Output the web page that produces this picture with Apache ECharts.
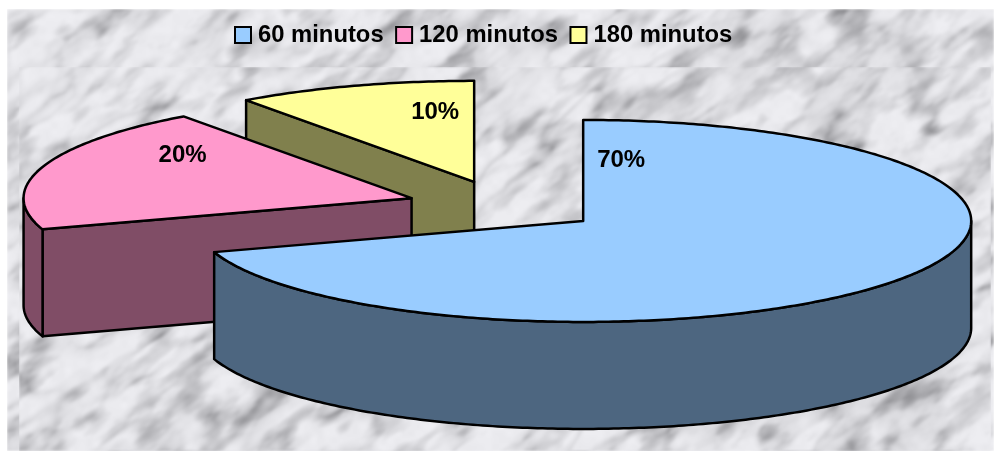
<!DOCTYPE html>
<html>
<head>
<meta charset="utf-8">
<style>html,body{margin:0;padding:0;background:#fff}#c{width:994px;height:451px}</style>
<script src="https://cdn.jsdelivr.net/npm/echarts@6/dist/echarts.min.js"></script>
</head>
<body>
<div id="c"></div>
<script>
// ---- data ----
var categories = ['60 minutos', '120 minutos', '180 minutos'];
var percents = [70, 20, 10];

// ---- styling / layout ----
var topColors = ['#99CCFF', '#FF99CC', '#FFFF99'];
var sideColors = ['#4D6680', '#804D66', '#80804D'];
var labelOffsets = [[38, -61], [-229, -43], [-39, -69]];
var pieCenter = [504.3, 206], rx = 388, ry = 101, depth = 107, explode = 97.5;
var FONT = '"Liberation Sans", Arial, sans-serif';

// ---- marble texture (deterministic, decoration only) ----
function hash(i, j) {
  var s = Math.sin(i * 127.1 + j * 311.7) * 43758.5453;
  return s - Math.floor(s);
}
function vnoise(x, y) {
  var i = Math.floor(x), j = Math.floor(y), f = x - i, g = y - j;
  f = f * f * (3 - 2 * f); g = g * g * (3 - 2 * g);
  var a = hash(i, j), b = hash(i + 1, j), c = hash(i, j + 1), d = hash(i + 1, j + 1);
  return a + (b - a) * f + (c - a) * g + (a - b - c + d) * f * g;
}
function fbm(x, y) {
  return 0.6 * vnoise(x, y) + 0.28 * vnoise(x * 2.1 + 9, y * 2.1 + 4) + 0.12 * vnoise(x * 4.3 + 3, y * 4.3 + 7);
}
function makeTile(w, h, ox, oy) {
  var cv = document.createElement('canvas');
  cv.width = w; cv.height = h;
  var ctx = cv.getContext('2d'), img = ctx.createImageData(w, h), d = img.data;
  var ca = Math.cos(-0.62), sa = Math.sin(-0.62);
  for (var y = 0; y < h; y++) for (var x = 0; x < w; x++) {
    var px = x + ox, py = y + oy;
    var u = px * ca + py * sa, v = -px * sa + py * ca;
    var warp = fbm(px / 90 + 5, py / 90 + 2);
    var n = fbm(u / 80, v / 30 + warp * 1.2);
    var m = fbm(u / 34 + 20, v / 15 + 30);
    var vein = Math.max(0, 1 - Math.abs(n - 0.5) * 7);
    var blot = Math.max(0, m - 0.47) * 2;
    var g = 235 - 32 * vein * (0.3 + m) * (0.3 + 1.4 * m) - 54 * blot + 6 * (vnoise(px / 7, py / 7) - 0.5);
    var k = (y * w + x) * 4;
    d[k] = g; d[k + 1] = g; d[k + 2] = g + 4; d[k + 3] = 255;
  }
  ctx.putImageData(img, 0, 0);
  var out = document.createElement('canvas');
  out.width = w; out.height = h;
  var o = out.getContext('2d');
  o.filter = 'blur(1.2px)';
  o.drawImage(cv, 0, 0);
  return out;
}
function makeBackground() {
  var cv = document.createElement('canvas');
  cv.width = 994; cv.height = 451;
  var ctx = cv.getContext('2d');
  ctx.fillStyle = '#fff'; ctx.fillRect(0, 0, 994, 451);
  ctx.drawImage(makeTile(987, 442, 0, 0), 7, 9);
  ctx.drawImage(makeTile(972, 384, 0, 40), 19, 67);
  return cv;
}

// ---- drawing through the data ----
var total = percents.reduce(function (a, b) { return a + b; }, 0);
function toAngle(v) { return echarts.number.linearMap(v, [0, total], [0, Math.PI * 2], true); }
function cumulative(i) { var s = 0; for (var k = 0; k < i; k++) s += percents[k]; return s; }
function arcPts(c, a0, a1, dy) {
  var pts = [], n = Math.max(2, Math.ceil((a1 - a0) / (Math.PI / 240)));
  for (var i = 0; i <= n; i++) {
    var t = a0 + (a1 - a0) * i / n;
    pts.push([c[0] + rx * Math.sin(t), c[1] - ry * Math.cos(t) + dy]);
  }
  return pts;
}
function renderSlice(idx) {
  return function (params, api) {
    var val = api.value(0);
    var start = toAngle(cumulative(idx)), end = start + toAngle(val), mid = (start + end) / 2;
    var c = [pieCenter[0] + explode * Math.sin(mid), pieCenter[1] - explode * ry / rx * Math.cos(mid)];
    var edge = { stroke: '#000', lineWidth: 2.5, lineJoin: 'round' };
    var kids = [];
    function poly(points, fill) {
      kids.push({ type: 'polygon', shape: { points: points }, style: Object.assign({ fill: fill }, edge) });
    }
    function radial(t) {
      var p = [c[0] + rx * Math.sin(t), c[1] - ry * Math.cos(t)];
      poly([c, p, [p[0], p[1] + depth], [c[0], c[1] + depth]], sideColors[idx]);
    }
    if (Math.sin(start) < -1e-6) radial(start);
    if (Math.sin(end) > 1e-6) radial(end);
    var w0 = Math.max(start, Math.PI / 2), w1 = Math.min(end, Math.PI * 1.5);
    if (w1 > w0) {
      poly(arcPts(c, w0, w1, 0).concat(arcPts(c, w0, w1, depth).reverse()), sideColors[idx]);
    }
    poly([c].concat(arcPts(c, start, end, 0)), topColors[idx]);
    kids.push({
      type: 'text',
      style: {
        text: val + '%', x: c[0] + labelOffsets[idx][0], y: c[1] + labelOffsets[idx][1],
        align: 'center', verticalAlign: 'middle', fill: '#000',
        font: 'bold 24px ' + FONT
      }
    });
    return { type: 'group', children: kids };
  };
}

var chart = echarts.init(document.getElementById('c'), null, { renderer: 'canvas', width: 994, height: 451 });
chart.setOption({
  animation: false,
  backgroundColor: '#fff',
  graphic: [{ type: 'image', left: 0, top: 0, z: -10, silent: true, style: { image: makeBackground(), x: 0, y: 0, width: 994, height: 451 } }],
  legend: {
    left: 234, top: 23, itemWidth: 16, itemHeight: 16, itemGap: 11.5, padding: 0,
    icon: 'rect', selectedMode: false,
    textStyle: { fontFamily: FONT, fontWeight: 'bold', fontSize: 23.8, color: '#000', padding: [0, 0, 0, 2] },
    data: categories
  },
  series: categories.map(function (name, i) {
    return {
      type: 'custom', name: name, coordinateSystem: 'none', silent: true,
      z: 2 + (categories.length - i),
      itemStyle: { color: topColors[i], borderColor: '#000', borderWidth: 2.5 },
      renderItem: renderSlice(i),
      data: [[percents[i]]]
    };
  })
});
</script>
</body>
</html>
